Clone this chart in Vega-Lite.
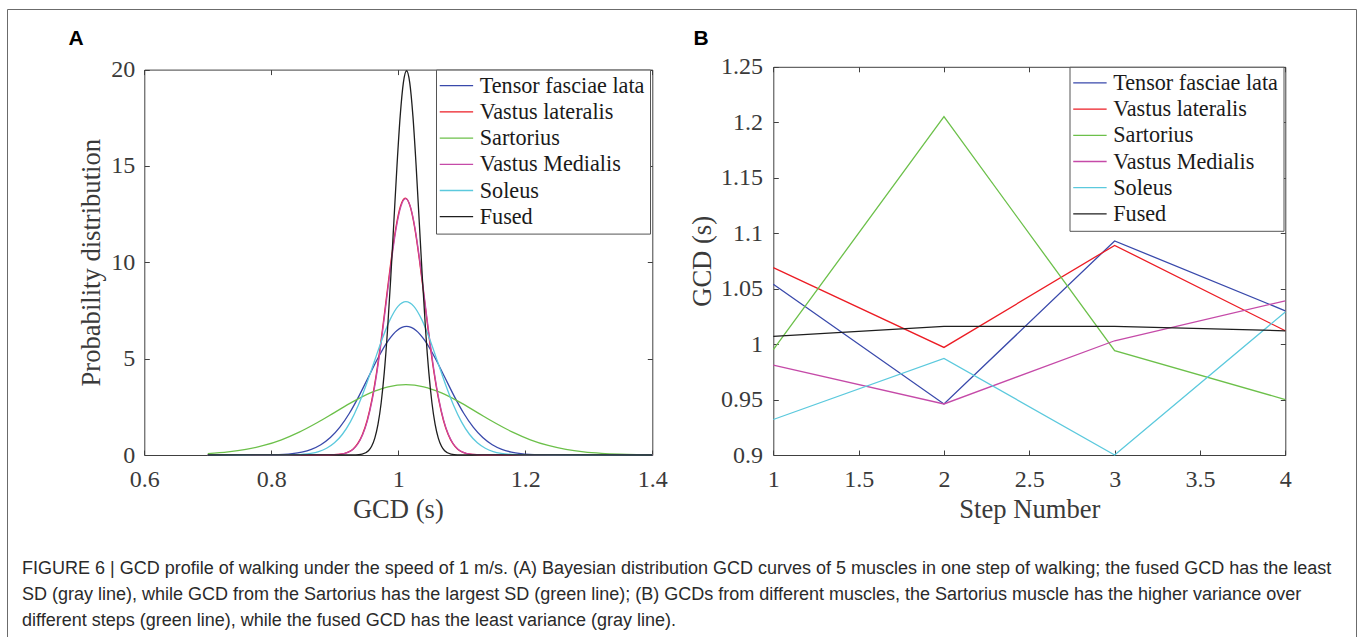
{
  "$schema": "https://vega.github.io/schema/vega-lite/v6.json",
  "width": 1349,
  "height": 632,
  "autosize": {"type": "none"},
  "padding": {"left": 7, "top": 9, "right": 2, "bottom": -4},
  "background": "white",
  "title": {
    "text": [
      "FIGURE 6 | GCD profile of walking under the speed of 1 m/s. (A) Bayesian distribution GCD curves of 5 muscles in one step of walking; the fused GCD has the least",
      "SD (gray line), while GCD from the Sartorius has the largest SD (green line); (B) GCDs from different muscles, the Sartorius muscle has the higher variance over",
      "different steps (green line), while the fused GCD has the least variance (gray line)."
    ],
    "orient": "bottom",
    "anchor": "start",
    "frame": "group",
    "offset": -66.6,
    "dx": 15,
    "baseline": "alphabetic",
    "font": "Liberation Sans",
    "fontSize": 18,
    "fontWeight": "normal",
    "lineHeight": 26,
    "color": "#2a2a2a",
    "limit": 1400
  },
  "config": {
    "view": {"stroke": "#6b6b6b", "strokeWidth": 1},
    "axis": {
      "grid": false,
      "labelFont": "Liberation Serif",
      "labelFontSize": 24,
      "labelColor": "#3a3a3a",
      "titleFont": "Liberation Serif",
      "titleFontSize": 26.6,
      "titleFontWeight": "normal",
      "titleColor": "#3a3a3a",
      "domainColor": "#404040",
      "domainWidth": 1,
      "tickColor": "#404040",
      "tickWidth": 1,
      "tickSize": -5,
      "labelFlush": false,
      "labelOverlap": false,
      "labelBound": false,
      "format": "~g"
    },
    "legend": {
      "symbolType": "M-1.63,0H1.63",
      "symbolSize": 420,
      "symbolStrokeWidth": 1.3,
      "symbolOffset": 4.33,
      "labelFont": "Liberation Serif",
      "labelFontSize": 22.2,
      "labelColor": "#1a1a1a",
      "labelLimit": 400,
      "strokeColor": "#555555",
      "fillColor": "#ffffff",
      "padding": 5,
      "labelOffset": 12.17,
      "rowPadding": 3.2
    }
  },
  "datasets": {
    "pdf": [
      {"muscle": "Tensor fasciae lata", "gcd": 0.7, "density": 0},
      {"muscle": "Tensor fasciae lata", "gcd": 0.773, "density": 0.0022},
      {"muscle": "Tensor fasciae lata", "gcd": 0.803, "density": 0.0146},
      {"muscle": "Tensor fasciae lata", "gcd": 0.833, "density": 0.0741},
      {"muscle": "Tensor fasciae lata", "gcd": 0.848, "density": 0.152},
      {"muscle": "Tensor fasciae lata", "gcd": 0.863, "density": 0.293},
      {"muscle": "Tensor fasciae lata", "gcd": 0.878, "density": 0.531},
      {"muscle": "Tensor fasciae lata", "gcd": 0.893, "density": 0.903},
      {"muscle": "Tensor fasciae lata", "gcd": 0.908, "density": 1.443},
      {"muscle": "Tensor fasciae lata", "gcd": 0.923, "density": 2.165},
      {"muscle": "Tensor fasciae lata", "gcd": 0.938, "density": 3.054},
      {"muscle": "Tensor fasciae lata", "gcd": 0.953, "density": 4.046},
      {"muscle": "Tensor fasciae lata", "gcd": 0.968, "density": 5.035},
      {"muscle": "Tensor fasciae lata", "gcd": 0.983, "density": 5.886},
      {"muscle": "Tensor fasciae lata", "gcd": 0.998, "density": 6.465},
      {"muscle": "Tensor fasciae lata", "gcd": 1.013, "density": 6.67},
      {"muscle": "Tensor fasciae lata", "gcd": 1.028, "density": 6.465},
      {"muscle": "Tensor fasciae lata", "gcd": 1.043, "density": 5.886},
      {"muscle": "Tensor fasciae lata", "gcd": 1.058, "density": 5.035},
      {"muscle": "Tensor fasciae lata", "gcd": 1.073, "density": 4.046},
      {"muscle": "Tensor fasciae lata", "gcd": 1.088, "density": 3.054},
      {"muscle": "Tensor fasciae lata", "gcd": 1.103, "density": 2.165},
      {"muscle": "Tensor fasciae lata", "gcd": 1.118, "density": 1.443},
      {"muscle": "Tensor fasciae lata", "gcd": 1.133, "density": 0.903},
      {"muscle": "Tensor fasciae lata", "gcd": 1.148, "density": 0.531},
      {"muscle": "Tensor fasciae lata", "gcd": 1.163, "density": 0.293},
      {"muscle": "Tensor fasciae lata", "gcd": 1.178, "density": 0.152},
      {"muscle": "Tensor fasciae lata", "gcd": 1.193, "density": 0.0741},
      {"muscle": "Tensor fasciae lata", "gcd": 1.223, "density": 0.0146},
      {"muscle": "Tensor fasciae lata", "gcd": 1.253, "density": 0.0022},
      {"muscle": "Tensor fasciae lata", "gcd": 1.4, "density": 0},

      {"muscle": "Vastus lateralis", "gcd": 0.7, "density": 0},
      {"muscle": "Vastus lateralis", "gcd": 0.891, "density": 0.0045},
      {"muscle": "Vastus lateralis", "gcd": 0.906, "density": 0.0292},
      {"muscle": "Vastus lateralis", "gcd": 0.921, "density": 0.148},
      {"muscle": "Vastus lateralis", "gcd": 0.9285, "density": 0.304},
      {"muscle": "Vastus lateralis", "gcd": 0.936, "density": 0.586},
      {"muscle": "Vastus lateralis", "gcd": 0.9435, "density": 1.061},
      {"muscle": "Vastus lateralis", "gcd": 0.951, "density": 1.804},
      {"muscle": "Vastus lateralis", "gcd": 0.9585, "density": 2.883},
      {"muscle": "Vastus lateralis", "gcd": 0.966, "density": 4.328},
      {"muscle": "Vastus lateralis", "gcd": 0.9735, "density": 6.103},
      {"muscle": "Vastus lateralis", "gcd": 0.981, "density": 8.085},
      {"muscle": "Vastus lateralis", "gcd": 0.9885, "density": 10.062},
      {"muscle": "Vastus lateralis", "gcd": 0.996, "density": 11.764},
      {"muscle": "Vastus lateralis", "gcd": 1.0035, "density": 12.92},
      {"muscle": "Vastus lateralis", "gcd": 1.011, "density": 13.33},
      {"muscle": "Vastus lateralis", "gcd": 1.0185, "density": 12.92},
      {"muscle": "Vastus lateralis", "gcd": 1.026, "density": 11.764},
      {"muscle": "Vastus lateralis", "gcd": 1.0335, "density": 10.062},
      {"muscle": "Vastus lateralis", "gcd": 1.041, "density": 8.085},
      {"muscle": "Vastus lateralis", "gcd": 1.0485, "density": 6.103},
      {"muscle": "Vastus lateralis", "gcd": 1.056, "density": 4.328},
      {"muscle": "Vastus lateralis", "gcd": 1.0635, "density": 2.883},
      {"muscle": "Vastus lateralis", "gcd": 1.071, "density": 1.804},
      {"muscle": "Vastus lateralis", "gcd": 1.0785, "density": 1.061},
      {"muscle": "Vastus lateralis", "gcd": 1.086, "density": 0.586},
      {"muscle": "Vastus lateralis", "gcd": 1.0935, "density": 0.304},
      {"muscle": "Vastus lateralis", "gcd": 1.101, "density": 0.148},
      {"muscle": "Vastus lateralis", "gcd": 1.116, "density": 0.0292},
      {"muscle": "Vastus lateralis", "gcd": 1.131, "density": 0.0045},
      {"muscle": "Vastus lateralis", "gcd": 1.4, "density": 0},

      {"muscle": "Sartorius", "gcd": 0.7, "density": 0.0753},
      {"muscle": "Sartorius", "gcd": 0.732, "density": 0.1604},
      {"muscle": "Sartorius", "gcd": 0.76, "density": 0.2904},
      {"muscle": "Sartorius", "gcd": 0.788, "density": 0.494},
      {"muscle": "Sartorius", "gcd": 0.816, "density": 0.7894},
      {"muscle": "Sartorius", "gcd": 0.844, "density": 1.185},
      {"muscle": "Sartorius", "gcd": 0.872, "density": 1.671},
      {"muscle": "Sartorius", "gcd": 0.9, "density": 2.214},
      {"muscle": "Sartorius", "gcd": 0.928, "density": 2.755},
      {"muscle": "Sartorius", "gcd": 0.956, "density": 3.221},
      {"muscle": "Sartorius", "gcd": 0.984, "density": 3.538},
      {"muscle": "Sartorius", "gcd": 1.012, "density": 3.65},
      {"muscle": "Sartorius", "gcd": 1.04, "density": 3.538},
      {"muscle": "Sartorius", "gcd": 1.068, "density": 3.221},
      {"muscle": "Sartorius", "gcd": 1.096, "density": 2.755},
      {"muscle": "Sartorius", "gcd": 1.124, "density": 2.214},
      {"muscle": "Sartorius", "gcd": 1.152, "density": 1.671},
      {"muscle": "Sartorius", "gcd": 1.18, "density": 1.185},
      {"muscle": "Sartorius", "gcd": 1.208, "density": 0.789},
      {"muscle": "Sartorius", "gcd": 1.236, "density": 0.494},
      {"muscle": "Sartorius", "gcd": 1.264, "density": 0.29},
      {"muscle": "Sartorius", "gcd": 1.292, "density": 0.16},
      {"muscle": "Sartorius", "gcd": 1.32, "density": 0.0832},
      {"muscle": "Sartorius", "gcd": 1.348, "density": 0.0406},
      {"muscle": "Sartorius", "gcd": 1.376, "density": 0.0186},
      {"muscle": "Sartorius", "gcd": 1.4, "density": 0.009},

      {"muscle": "Vastus Medialis", "gcd": 0.7, "density": 0},
      {"muscle": "Vastus Medialis", "gcd": 0.8915, "density": 0.0045},
      {"muscle": "Vastus Medialis", "gcd": 0.9065, "density": 0.0291},
      {"muscle": "Vastus Medialis", "gcd": 0.9215, "density": 0.148},
      {"muscle": "Vastus Medialis", "gcd": 0.929, "density": 0.303},
      {"muscle": "Vastus Medialis", "gcd": 0.9365, "density": 0.584},
      {"muscle": "Vastus Medialis", "gcd": 0.944, "density": 1.058},
      {"muscle": "Vastus Medialis", "gcd": 0.9515, "density": 1.8},
      {"muscle": "Vastus Medialis", "gcd": 0.959, "density": 2.876},
      {"muscle": "Vastus Medialis", "gcd": 0.9665, "density": 4.318},
      {"muscle": "Vastus Medialis", "gcd": 0.974, "density": 6.089},
      {"muscle": "Vastus Medialis", "gcd": 0.9815, "density": 8.067},
      {"muscle": "Vastus Medialis", "gcd": 0.989, "density": 10.039},
      {"muscle": "Vastus Medialis", "gcd": 0.9965, "density": 11.737},
      {"muscle": "Vastus Medialis", "gcd": 1.004, "density": 12.891},
      {"muscle": "Vastus Medialis", "gcd": 1.0115, "density": 13.3},
      {"muscle": "Vastus Medialis", "gcd": 1.019, "density": 12.891},
      {"muscle": "Vastus Medialis", "gcd": 1.0265, "density": 11.737},
      {"muscle": "Vastus Medialis", "gcd": 1.034, "density": 10.039},
      {"muscle": "Vastus Medialis", "gcd": 1.0415, "density": 8.067},
      {"muscle": "Vastus Medialis", "gcd": 1.049, "density": 6.089},
      {"muscle": "Vastus Medialis", "gcd": 1.0565, "density": 4.318},
      {"muscle": "Vastus Medialis", "gcd": 1.064, "density": 2.876},
      {"muscle": "Vastus Medialis", "gcd": 1.0715, "density": 1.8},
      {"muscle": "Vastus Medialis", "gcd": 1.079, "density": 1.058},
      {"muscle": "Vastus Medialis", "gcd": 1.0865, "density": 0.584},
      {"muscle": "Vastus Medialis", "gcd": 1.094, "density": 0.303},
      {"muscle": "Vastus Medialis", "gcd": 1.1015, "density": 0.148},
      {"muscle": "Vastus Medialis", "gcd": 1.1165, "density": 0.0291},
      {"muscle": "Vastus Medialis", "gcd": 1.1315, "density": 0.0045},
      {"muscle": "Vastus Medialis", "gcd": 1.4, "density": 0},

      {"muscle": "Soleus", "gcd": 0.7, "density": 0},
      {"muscle": "Soleus", "gcd": 0.812, "density": 0.0027},
      {"muscle": "Soleus", "gcd": 0.837, "density": 0.0174},
      {"muscle": "Soleus", "gcd": 0.862, "density": 0.0884},
      {"muscle": "Soleus", "gcd": 0.8745, "density": 0.181},
      {"muscle": "Soleus", "gcd": 0.887, "density": 0.35},
      {"muscle": "Soleus", "gcd": 0.8995, "density": 0.633},
      {"muscle": "Soleus", "gcd": 0.912, "density": 1.077},
      {"muscle": "Soleus", "gcd": 0.9245, "density": 1.722},
      {"muscle": "Soleus", "gcd": 0.937, "density": 2.584},
      {"muscle": "Soleus", "gcd": 0.9495, "density": 3.644},
      {"muscle": "Soleus", "gcd": 0.962, "density": 4.828},
      {"muscle": "Soleus", "gcd": 0.9745, "density": 6.009},
      {"muscle": "Soleus", "gcd": 0.987, "density": 7.025},
      {"muscle": "Soleus", "gcd": 0.9995, "density": 7.715},
      {"muscle": "Soleus", "gcd": 1.012, "density": 7.96},
      {"muscle": "Soleus", "gcd": 1.0245, "density": 7.715},
      {"muscle": "Soleus", "gcd": 1.037, "density": 7.025},
      {"muscle": "Soleus", "gcd": 1.0495, "density": 6.009},
      {"muscle": "Soleus", "gcd": 1.062, "density": 4.828},
      {"muscle": "Soleus", "gcd": 1.0745, "density": 3.644},
      {"muscle": "Soleus", "gcd": 1.087, "density": 2.584},
      {"muscle": "Soleus", "gcd": 1.0995, "density": 1.722},
      {"muscle": "Soleus", "gcd": 1.112, "density": 1.077},
      {"muscle": "Soleus", "gcd": 1.1245, "density": 0.633},
      {"muscle": "Soleus", "gcd": 1.137, "density": 0.35},
      {"muscle": "Soleus", "gcd": 1.1495, "density": 0.181},
      {"muscle": "Soleus", "gcd": 1.162, "density": 0.0884},
      {"muscle": "Soleus", "gcd": 1.187, "density": 0.0174},
      {"muscle": "Soleus", "gcd": 1.212, "density": 0.0027},
      {"muscle": "Soleus", "gcd": 1.4, "density": 0},

      {"muscle": "Fused", "gcd": 0.7, "density": 0},
      {"muscle": "Fused", "gcd": 0.933, "density": 0.0067},
      {"muscle": "Fused", "gcd": 0.943, "density": 0.0437},
      {"muscle": "Fused", "gcd": 0.953, "density": 0.2215},
      {"muscle": "Fused", "gcd": 0.958, "density": 0.454},
      {"muscle": "Fused", "gcd": 0.963, "density": 0.876},
      {"muscle": "Fused", "gcd": 0.968, "density": 1.586},
      {"muscle": "Fused", "gcd": 0.973, "density": 2.699},
      {"muscle": "Fused", "gcd": 0.978, "density": 4.312},
      {"muscle": "Fused", "gcd": 0.983, "density": 6.473},
      {"muscle": "Fused", "gcd": 0.988, "density": 9.129},
      {"muscle": "Fused", "gcd": 0.993, "density": 12.094},
      {"muscle": "Fused", "gcd": 0.998, "density": 15.052},
      {"muscle": "Fused", "gcd": 1.003, "density": 17.597},
      {"muscle": "Fused", "gcd": 1.008, "density": 19.326},
      {"muscle": "Fused", "gcd": 1.013, "density": 19.94},
      {"muscle": "Fused", "gcd": 1.018, "density": 19.326},
      {"muscle": "Fused", "gcd": 1.023, "density": 17.597},
      {"muscle": "Fused", "gcd": 1.028, "density": 15.052},
      {"muscle": "Fused", "gcd": 1.033, "density": 12.094},
      {"muscle": "Fused", "gcd": 1.038, "density": 9.129},
      {"muscle": "Fused", "gcd": 1.043, "density": 6.473},
      {"muscle": "Fused", "gcd": 1.048, "density": 4.312},
      {"muscle": "Fused", "gcd": 1.053, "density": 2.699},
      {"muscle": "Fused", "gcd": 1.058, "density": 1.586},
      {"muscle": "Fused", "gcd": 1.063, "density": 0.876},
      {"muscle": "Fused", "gcd": 1.068, "density": 0.454},
      {"muscle": "Fused", "gcd": 1.073, "density": 0.2215},
      {"muscle": "Fused", "gcd": 1.083, "density": 0.0437},
      {"muscle": "Fused", "gcd": 1.093, "density": 0.0067},
      {"muscle": "Fused", "gcd": 1.4, "density": 0}
    ],
    "steps": [
      {"muscle": "Tensor fasciae lata", "step": 1, "gcd": 1.054},
      {"muscle": "Tensor fasciae lata", "step": 2, "gcd": 0.946},
      {"muscle": "Tensor fasciae lata", "step": 3, "gcd": 1.093},
      {"muscle": "Tensor fasciae lata", "step": 4, "gcd": 1.03},
      {"muscle": "Vastus lateralis", "step": 1, "gcd": 1.069},
      {"muscle": "Vastus lateralis", "step": 2, "gcd": 0.997},
      {"muscle": "Vastus lateralis", "step": 3, "gcd": 1.089},
      {"muscle": "Vastus lateralis", "step": 4, "gcd": 1.012},
      {"muscle": "Sartorius", "step": 1, "gcd": 0.995},
      {"muscle": "Sartorius", "step": 2, "gcd": 1.205},
      {"muscle": "Sartorius", "step": 3, "gcd": 0.994},
      {"muscle": "Sartorius", "step": 4, "gcd": 0.95},
      {"muscle": "Vastus Medialis", "step": 1, "gcd": 0.981},
      {"muscle": "Vastus Medialis", "step": 2, "gcd": 0.946},
      {"muscle": "Vastus Medialis", "step": 3, "gcd": 1.003},
      {"muscle": "Vastus Medialis", "step": 4, "gcd": 1.039},
      {"muscle": "Soleus", "step": 1, "gcd": 0.932},
      {"muscle": "Soleus", "step": 2, "gcd": 0.987},
      {"muscle": "Soleus", "step": 3, "gcd": 0.9},
      {"muscle": "Soleus", "step": 4, "gcd": 1.029},
      {"muscle": "Fused", "step": 1, "gcd": 1.007},
      {"muscle": "Fused", "step": 2, "gcd": 1.016},
      {"muscle": "Fused", "step": 3, "gcd": 1.016},
      {"muscle": "Fused", "step": 4, "gcd": 1.012}
    ]
  },
  "layer": [
    {
      "layer": [
        {
          "data": {"name": "pdf"},
          "mark": {"type": "line", "interpolate": "monotone", "strokeWidth": 1.3},
          "encoding": {
            "x": {
              "field": "gcd", "type": "quantitative",
              "scale": {"domain": [0.6, 1.4], "range": [137.3, 645.3], "nice": false, "zero": false},
              "axis": {"orient": "bottom", "offset": -186, "values": [0.6, 0.8, 1, 1.2, 1.4],
                       "labelBaseline": "alphabetic", "labelPadding": 36.5,
                       "title": "GCD (s)", "titleX": 390.8, "titleY": 62, "titleAlign": "center", "titleBaseline": "alphabetic", "titleAngle": 0}
            },
            "y": {
              "field": "density", "type": "quantitative",
              "scale": {"domain": [0, 20], "range": [446, 60.6], "nice": false, "zero": false},
              "axis": {"orient": "left", "offset": -137.3, "values": [0, 5, 10, 15, 20],
                       "labelBaseline": "middle", "labelPadding": 14.5,
                       "title": "Probability distribution", "titleX": -44.5, "titleY": 253.2, "titleAlign": "center", "titleBaseline": "alphabetic", "titleAngle": 270}
            },
            "color": {
              "field": "muscle", "type": "nominal",
              "scale": {"domain": ["Tensor fasciae lata", "Vastus lateralis", "Sartorius", "Vastus Medialis", "Soleus", "Fused"],
                        "range": ["#3949ab", "#ec1c24", "#6cc04a", "#c54aa8", "#5bc9dd", "#1e1e1e"]},
              "legend": {"orient": "none", "legendX": 429, "legendY": 60.6, "title": null}
            }
          }
        },
        {
          "data": {"values": [{}]},
          "mark": {"type": "point", "opacity": 0},
          "encoding": {
            "x": {
              "datum": 1, "type": "quantitative",
              "scale": {"domain": [0.6, 1.4], "range": [137.3, 645.3], "nice": false, "zero": false},
              "axis": {"orient": "top", "offset": -60.6, "values": [0.6, 0.8, 1, 1.2, 1.4], "labels": false,
                       "title": "A", "titleX": 61, "titleY": -24.9, "titleAlign": "left", "titleBaseline": "alphabetic", "titleAngle": 0,
                       "titleFont": "Liberation Sans", "titleFontWeight": "bold", "titleFontSize": 21, "titleColor": "#000000"}
            },
            "y": {
              "datum": 10, "type": "quantitative",
              "scale": {"domain": [0, 20], "range": [446, 60.6], "nice": false, "zero": false},
              "axis": {"orient": "right", "offset": -703.7, "values": [0, 5, 10, 15, 20], "labels": false, "title": null}
            }
          }
        }
      ]
    },
    {
      "layer": [
        {
          "data": {"name": "steps"},
          "mark": {"type": "line", "strokeWidth": 1.3},
          "encoding": {
            "x": {
              "field": "step", "type": "quantitative",
              "scale": {"domain": [1, 4], "range": [766.3, 1278.3], "nice": false, "zero": false},
              "axis": {"orient": "bottom", "offset": -186, "values": [1, 1.5, 2, 2.5, 3, 3.5, 4],
                       "labelBaseline": "alphabetic", "labelPadding": 36.5,
                       "title": "Step Number", "titleX": 1022.3, "titleY": 62, "titleAlign": "center", "titleBaseline": "alphabetic", "titleAngle": 0}
            },
            "y": {
              "field": "gcd", "type": "quantitative",
              "scale": {"domain": [0.9, 1.25], "range": [446, 57.8], "nice": false, "zero": false},
              "axis": {"orient": "left", "offset": -766.3, "values": [0.9, 0.95, 1, 1.05, 1.1, 1.15, 1.2, 1.25],
                       "labelBaseline": "middle", "labelPadding": 15.7,
                       "title": "GCD (s)", "titleX": -63.3, "titleY": 251.9, "titleAlign": "center", "titleBaseline": "alphabetic", "titleAngle": 270}
            },
            "color": {
              "field": "muscle", "type": "nominal",
              "scale": {"domain": ["Tensor fasciae lata", "Vastus lateralis", "Sartorius", "Vastus Medialis", "Soleus", "Fused"],
                        "range": ["#3949ab", "#ec1c24", "#6cc04a", "#c54aa8", "#5bc9dd", "#1e1e1e"]},
              "legend": {"orient": "none", "legendX": 1062.5, "legendY": 57.8, "title": null}
            }
          }
        },
        {
          "data": {"values": [{}]},
          "mark": {"type": "point", "opacity": 0},
          "encoding": {
            "x": {
              "datum": 2, "type": "quantitative",
              "scale": {"domain": [1, 4], "range": [766.3, 1278.3], "nice": false, "zero": false},
              "axis": {"orient": "top", "offset": -57.8, "values": [1, 1.5, 2, 2.5, 3, 3.5, 4], "labels": false,
                       "title": "B", "titleX": 686, "titleY": -22.3, "titleAlign": "left", "titleBaseline": "alphabetic", "titleAngle": 0,
                       "titleFont": "Liberation Sans", "titleFontWeight": "bold", "titleFontSize": 21, "titleColor": "#000000"}
            },
            "y": {
              "datum": 1, "type": "quantitative",
              "scale": {"domain": [0.9, 1.25], "range": [446, 57.8], "nice": false, "zero": false},
              "axis": {"orient": "right", "offset": -70.7, "values": [0.9, 0.95, 1, 1.05, 1.1, 1.15, 1.2, 1.25], "labels": false, "title": null}
            }
          }
        }
      ]
    }
  ],
  "resolve": {
    "scale": {"x": "independent", "y": "independent", "color": "independent"},
    "axis": {"x": "independent", "y": "independent"},
    "legend": {"color": "independent"}
  }
}
